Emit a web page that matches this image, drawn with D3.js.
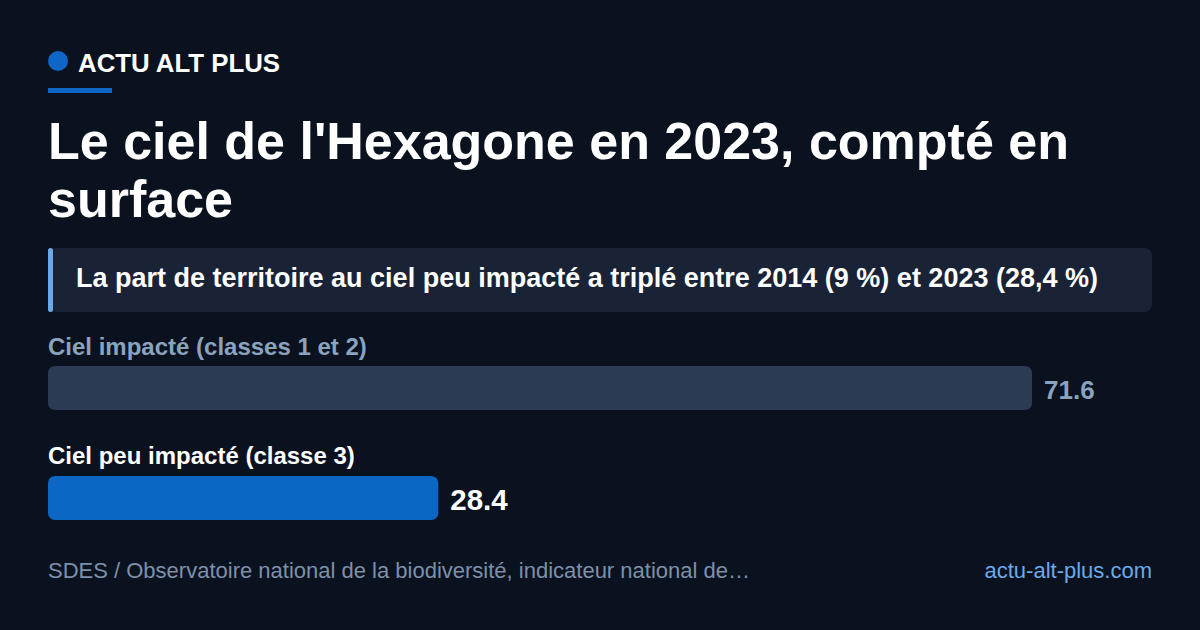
<!DOCTYPE html>
<html><head><meta charset="utf-8">
<script src="https://cdn.jsdelivr.net/npm/d3@7"></script>
<style>html,body{margin:0;padding:0;background:#0b121f;}svg{display:block;}</style>
</head><body>
<script>
const brand = "ACTU ALT PLUS";
const titleLines = ["Le ciel de l'Hexagone en 2023, compté en", "surface"];
const subtitle = "La part de territoire au ciel peu impacté a triplé entre 2014 (9 %) et 2023 (28,4 %)";
const categories = ["Ciel impacté (classes 1 et 2)", "Ciel peu impacté (classe 3)"];
const values = [71.6, 28.4];
const valueLabels = ["71.6", "28.4"];
const source = "SDES / Observatoire national de la biodiversité, indicateur national de…";
const site = "actu-alt-plus.com";

const W = 1200, H = 630;
const font = "'Liberation Sans', Arial, Helvetica, sans-serif";
const svg = d3.select("body").append("svg").attr("width", W).attr("height", H);
svg.append("rect").attr("width", W).attr("height", H).attr("fill", "#0b121f");

// brand
svg.append("circle").attr("cx", 58).attr("cy", 61).attr("r", 10).attr("fill", "#0e66c6");
svg.append("text").attr("x", 78).attr("y", 72).attr("fill", "#ffffff")
  .attr("font-family", font).attr("font-weight", 700).attr("font-size", 25.8).text(brand);
svg.append("rect").attr("x", 48).attr("y", 88).attr("width", 64).attr("height", 5).attr("fill", "#0e66c6");

// title
svg.append("g").selectAll("text").data(titleLines).join("text")
  .attr("x", 48).attr("y", (d, i) => 159 + i * 58)
  .attr("fill", "#ffffff").attr("font-family", font).attr("font-weight", 700).attr("font-size", 52)
  .text(d => d);

// subtitle box
svg.append("rect").attr("x", 48).attr("y", 248).attr("width", 1104).attr("height", 64).attr("rx", 8).attr("fill", "#1a2335");
svg.append("rect").attr("x", 48).attr("y", 248).attr("width", 5).attr("height", 64).attr("rx", 2.5).attr("fill", "#6aaaea");
svg.append("text").attr("x", 76).attr("y", 287).attr("fill", "#ffffff")
  .attr("font-family", font).attr("font-weight", 700).attr("font-size", 27).attr("textLength", 1022)
  .attr("lengthAdjust", "spacingAndGlyphs").text(subtitle);

// bars
const x = d3.scaleLinear().domain([0, d3.max(values)]).range([0, 984]);
const y = d3.scaleBand().domain(categories).range([330, 550]).paddingInner(0).paddingOuter(0);
const barFill = ["#2c3a53", "#0c66c4"];
const labelFill = ["#8aa3bf", "#ffffff"];
const valueSize = [26, 29.5];
const g = svg.append("g").selectAll("g").data(categories).join("g")
  .attr("transform", d => `translate(48,${y(d)})`);
g.append("text").attr("x", 0).attr("y", (d, i) => 25 - i * 1.5).attr("fill", (d, i) => labelFill[i])
  .attr("font-family", font).attr("font-weight", 700).attr("font-size", 24).text(d => d);
g.append("rect").attr("x", 0).attr("y", 36).attr("height", 44).attr("rx", 7)
  .attr("width", (d, i) => x(values[i])).attr("fill", (d, i) => barFill[i]);
g.append("text").attr("x", (d, i) => x(values[i]) + 12).attr("y", (d, i) => 69 + i)
  .attr("fill", (d, i) => labelFill[i]).attr("font-family", font).attr("font-weight", 700)
  .attr("font-size", (d, i) => valueSize[i])
  .text((d, i) => valueLabels[i]);

// footer
svg.append("text").attr("x", 48).attr("y", 578).attr("fill", "#7d90aa")
  .attr("font-family", font).attr("font-size", 22).text(source);
svg.append("text").attr("x", 1152).attr("y", 578).attr("text-anchor", "end").attr("fill", "#6aaaea")
  .attr("font-family", font).attr("font-size", 22).text(site);
</script>
</body></html>
